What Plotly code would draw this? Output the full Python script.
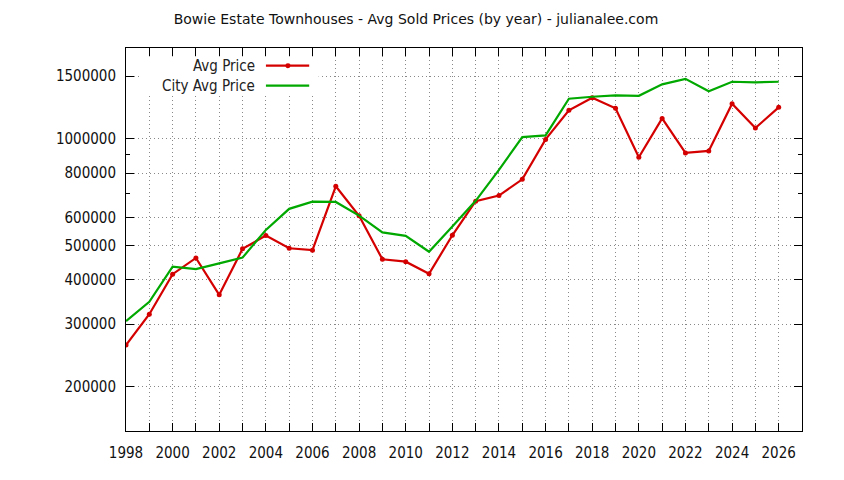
import plotly.graph_objects as go

# yearly averages
years = list(range(1998, 2027))
avg_price = [262000, 320000, 415000, 461000, 363000, 489000, 533000, 491000,
             485000, 734000, 606000, 457000, 450000, 416000, 534000, 666000,
             691000, 768000, 995000, 1201000, 1303000, 1217000, 886000, 1140000,
             911000, 923000, 1254000, 1071000, 1225000]
city_avg_price = [306000, 347000, 436000, 429000, 445000, 462000, 553000, 634000,
                  664000, 663000, 607000, 544000, 532000, 480000, 565000, 668000,
                  816000, 1010000, 1021000, 1295000, 1312000, 1324000, 1320000, 1422000,
                  1474000, 1359000, 1446000, 1440000, 1446000]

y_ticks = [200000, 300000, 400000, 500000, 600000, 800000, 1000000, 1500000]
y_minor = [700000, 900000]
x_labels = [str(y) if y % 2 == 0 else "" for y in years]

RED = "#d40000"
GREEN = "#00a800"
FONT = "DejaVu Sans"
TICKFONT = "DejaVu Sans Condensed, Liberation Sans"

fig = go.Figure()
fig.add_trace(go.Scatter(x=years, y=avg_price, name="Avg Price", mode="lines+markers",
                         line=dict(color=RED, width=2.2),
                         marker=dict(color=RED, size=5, symbol="circle")))
fig.add_trace(go.Scatter(x=years, y=city_avg_price, name="City Avg Price", mode="lines",
                         line=dict(color=GREEN, width=2.2)))

# gnuplot style key: text on the left, sample on the right, white box under it
fig.add_shape(type="rect", xref="paper", yref="paper", x0=0.02, x1=0.285, y0=0.878, y1=0.978,
              fillcolor="white", line=dict(width=0), layer="above")
for label, col, yy in [("Avg Price", RED, 0.9538), ("City Avg Price", GREEN, 0.9016)]:
    fig.add_annotation(xref="paper", yref="paper", x=0.194, y=yy, text=label,
                       showarrow=False, xanchor="right", yanchor="middle",
                       font=dict(family=TICKFONT, size=15, color="#222"))
    fig.add_shape(type="line", xref="paper", yref="paper", x0=0.207, x1=0.271, y0=yy, y1=yy,
                  line=dict(color=col, width=2.2), layer="above")
fig.add_shape(type="circle", xref="paper", yref="paper",
              x0=0.2396 - 0.0037, x1=0.2396 + 0.0037, y0=0.9538 - 0.0065, y1=0.9538 + 0.0065,
              fillcolor=RED, line=dict(width=0), layer="above")

# the page puts the figure 8px in from the top left, margins allow for that
fig.update_layout(
    width=844, height=480,
    margin=dict(l=118, r=50, t=40, b=57),
    paper_bgcolor="white", plot_bgcolor="white",
    showlegend=False,
    font=dict(family=FONT, size=13, color="#111"),
    title=dict(text="Bowie Estate Townhouses - Avg Sold Prices (by year) - julianalee.com",
               xref="container", yref="container", x=0.4834, y=0.977,
               xanchor="center", yanchor="middle",
               font=dict(family=FONT, size=14, color="#111")),
)
grid = dict(showgrid=True, gridcolor="#888", griddash="1px,3px", gridwidth=1)
fig.update_xaxes(range=[1998, 2027], tickmode="array", tickvals=years, ticktext=x_labels,
                 ticks="inside", ticklen=8, tickcolor="black", ticklabelstandoff=8,
                 showline=True, linecolor="black", linewidth=1, mirror="ticks",
                 zeroline=False, automargin=False, tickfont=dict(family=TICKFONT, size=15),
                 **grid)
fig.update_yaxes(type="log", range=[5.1761, 6.2553], tickmode="array", tickvals=y_ticks,
                 ticktext=[str(v) for v in y_ticks],
                 ticks="inside", ticklen=8, tickcolor="black", ticklabelstandoff=6,
                 showline=True, linecolor="black", linewidth=1, mirror="ticks",
                 minor=dict(tickmode="array", tickvals=y_minor, ticks="inside", ticklen=4,
                            tickcolor="black", showgrid=False),
                 zeroline=False, automargin=False, tickfont=dict(family=TICKFONT, size=15),
                 **grid)

fig.write_html("out.html")
